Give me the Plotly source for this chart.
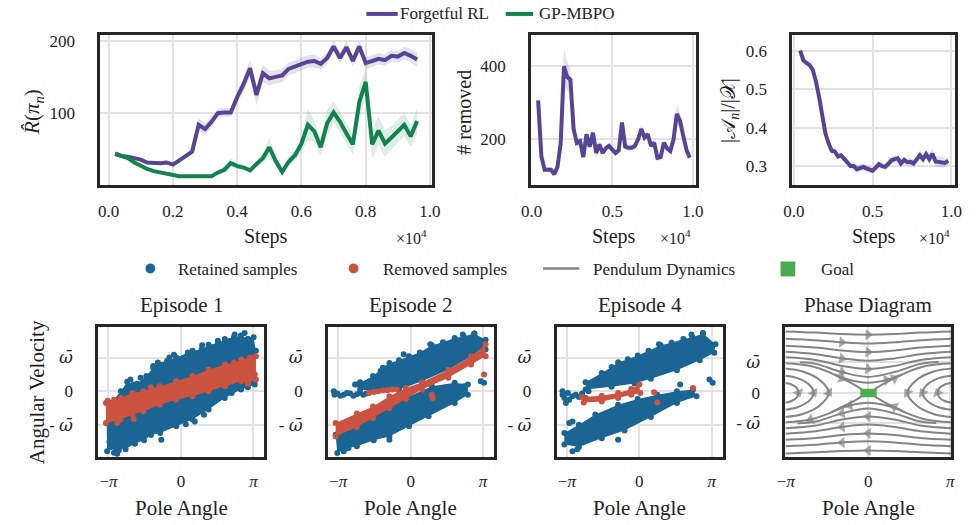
import plotly.graph_objects as go

# ------------------------------------------------------------------
# DATA
# ------------------------------------------------------------------
steps_reward = [200, 400, 600, 800, 1000, 1200, 1400, 1600, 1800, 2000,
                2200, 2400, 2600, 2800, 3000, 3200, 3400, 3600, 3800, 4000,
                4200, 4400, 4600, 4800, 5000, 5200, 5400, 5600, 5800, 6000,
                6200, 6400, 6600, 6800, 7000, 7200, 7400, 7600, 7800, 8000,
                8200, 8400, 8600, 8800, 9000, 9200, 9400, 9600]
forgetful_reward = [44, 41, 40, 38, 36, 32, 31, 31, 32, 29,
                    35, 41, 47, 84, 78, 88, 100, 101, 101, 122,
                    140, 162, 125, 155, 148, 150, 152, 161, 164, 168,
                    171, 172, 168, 176, 192, 176, 191, 172, 192, 169,
                    172, 175, 173, 179, 178, 183, 179, 174]
forgetful_reward_std = [2, 2, 2, 2, 2, 2, 2, 2, 2, 2,
                        3, 3, 4, 9, 8, 8, 6, 6, 6, 8,
                        10, 12, 14, 12, 10, 9, 9, 9, 9, 9,
                        9, 9, 8, 8, 8, 8, 8, 8, 8, 8,
                        8, 8, 8, 8, 8, 9, 9, 10]
gpmbpo_reward = [44, 41, 38, 32, 27, 23, 20, 18, 17, 15,
                 13, 13, 13, 14, 14, 13, 18, 22, 31, 27,
                 25, 21, 30, 38, 53, 34, 19, 33, 42, 58,
                 84, 75, 53, 86, 101, 88, 72, 57, 115, 143,
                 57, 76, 58, 66, 75, 84, 68, 89]
gpmbpo_reward_std = [1, 1, 1, 1, 1, 1, 1, 1, 1, 1,
                     1, 1, 1, 1, 2, 2, 3, 4, 7, 4,
                     4, 3, 5, 6, 13, 7, 5, 6, 8, 10,
                     22, 14, 12, 18, 15, 14, 14, 14, 22, 18,
                     20, 20, 18, 16, 16, 16, 15, 18]

steps_forget = [400, 600, 800, 1000, 1200, 1400, 1600, 1800, 2000, 2200,
                2400, 2600, 2800, 3000, 3200, 3400, 3600, 3800, 4000, 4200,
                4400, 4600, 4800, 5000, 5200, 5400, 5600, 5800, 6000, 6200,
                6400, 6600, 6800, 7000, 7200, 7400, 7600, 7800, 8000, 8200,
                8400, 8600, 8800, 9000, 9200, 9400, 9600, 9800]
removed_count = [306, 154, 117, 118, 117, 105, 125, 190, 398, 370,
                 362, 228, 190, 195, 152, 214, 180, 218, 163, 186,
                 163, 176, 182, 172, 163, 170, 246, 180, 177, 177,
                 182, 200, 228, 205, 214, 182, 191, 150, 152, 191,
                 175, 168, 200, 269, 250, 210, 172, 150]
removed_std = [30, 12, 8, 8, 8, 8, 10, 20, 50, 40,
               30, 15, 10, 10, 10, 10, 10, 10, 10, 10,
               8, 8, 8, 8, 8, 8, 12, 8, 8, 8,
               8, 8, 10, 8, 8, 8, 8, 8, 8, 8,
               8, 8, 10, 30, 20, 12, 10, 8]
active_ratio = [0.600, 0.575, 0.568, 0.562, 0.550, 0.520, 0.480, 0.430, 0.385, 0.360,
                0.340, 0.338, 0.325, 0.328, 0.318, 0.312, 0.300, 0.300, 0.292, 0.295,
                0.298, 0.294, 0.291, 0.288, 0.296, 0.305, 0.300, 0.298, 0.306, 0.315,
                0.318, 0.320, 0.307, 0.316, 0.310, 0.311, 0.307, 0.316, 0.328, 0.318,
                0.331, 0.318, 0.332, 0.312, 0.311, 0.310, 0.308, 0.314]
active_ratio_std = [0.012, 0.006, 0.006, 0.006, 0.006, 0.006, 0.006, 0.006, 0.006, 0.008,
                    0.008, 0.008, 0.008, 0.008, 0.008, 0.008, 0.008, 0.010, 0.010, 0.010,
                    0.010, 0.010, 0.010, 0.008, 0.008, 0.008, 0.008, 0.008, 0.010, 0.010,
                    0.010, 0.010, 0.010, 0.010, 0.010, 0.010, 0.010, 0.010, 0.012, 0.012,
                    0.012, 0.012, 0.014, 0.014, 0.014, 0.014, 0.012, 0.010]

step_ticks_fine = [0, 2000, 4000, 6000, 8000, 10000]
step_labels_fine = ["0.0", "0.2", "0.4", "0.6", "0.8", "1.0"]
step_ticks_coarse = [0, 5000, 10000]
step_labels_coarse = ["0.0", "0.5", "1.0"]

angle_ticks = [-3.14159, 0, 3.14159]
angle_labels = ["\u2212<i>\u03c0</i>", "0", "<i>\u03c0</i>"]
omega_ticks = [-1, 0, 1]
OMEGA_BAR = "<span style='font-family:DejaVu Serif'><i>\u03c9\u0304</i></span>"
omega_labels = ["- " + OMEGA_BAR, "0", OMEGA_BAR]

# --- Episode 1 samples (pole angle [rad], angular velocity [units of omega-bar])
ep1_retained_core_x = [-3.22, -3.05, -2.6, -2.33, -2.05, -1.9, -1.5, -1.2, -1.0, -0.6, -0.2, 0.5, 0.9, 1.2, 1.6,
                       1.9, 2.3, 2.6, 2.9, 3.15, 3.25, 3.2, 2.9, 2.6, 1.9, 1.2, 0.5, -0.2, -0.9, -1.3, -1.6,
                       -2.0, -2.4, -2.8, -3.2]
ep1_retained_core_y = [-0.95, -0.35, 0.0, 0.28, 0.2, 0.22, 0.45, 0.7, 0.85, 0.9, 1.0, 1.2, 1.24, 1.38, 1.42,
                       1.55, 1.6, 1.65, 1.55, 1.6, 1.2, 0.2, 0.12, 0.05, -0.2, -0.54, -0.84, -1.04, -1.24, -1.3,
                       -1.45, -1.55, -1.72, -1.7, -1.78]
ep1_retained_x = [2.33, 2.76, 0.92, 1.27, -0.85, 0.21, -2.9, -2.69, -2.76, -2.19, 1.63, 3.18,
                  -1.2, -0.5, 0.3, 1.6, 2.9, -3.1, -2.0, 1.0, 2.2, -1.75, -0.3, 0.6]
ep1_retained_y = [1.68, 1.73, 1.36, 1.29, -1.44, -0.98, -1.82, -1.75, -1.85, 0.35, -0.12, 0.3,
                  0.75, 1.0, 1.15, 1.5, 1.55, -1.5, -1.55, -0.7, -0.05, 0.4, 1.08, -0.9]
ep1_removed_core_x = [-3.25, -2.9, -2.6, -2.1, -1.63, -0.92, -0.21, 0.5, 1.2, 1.91, 2.3, 2.62, 3.0, 3.25,
                      3.25, 2.9, 2.62, 1.91, 1.2, 0.5, -0.21, -0.92, -1.63, -2.1, -2.62, -3.25]
ep1_removed_core_y = [-0.35, -0.25, -0.2, -0.05, 0.0, 0.15, 0.3, 0.45, 0.64, 0.79, 0.85, 0.94, 1.0, 1.04,
                      0.35, 0.25, 0.3, 0.15, 0.0, -0.15, -0.25, -0.4, -0.59, -0.7, -0.84, -0.94]
ep1_removed_x = [-3.18, -2.76, -2.05, 2.9, 3.2, -1.3]
ep1_removed_y = [-0.28, -0.94, -0.82, 0.22, 0.5, 0.12]

# --- Episode 2 samples
ep2_retained_upper_x = [-2.33, -1.63, -1.2, -0.92, -0.5, -0.07, 0.4, 0.92, 1.4, 1.91, 2.3, 2.76, 3.25,
                        3.25, 2.62, 1.63, 0.5, -0.5, -1.49, -2.19]
ep2_retained_upper_y = [0.2, 0.45, 0.7, 0.84, 0.92, 1.04, 1.15, 1.36, 1.45, 1.58, 1.62, 1.71, 1.53,
                        1.24, 1.04, 0.64, 0.3, 0.05, 0.0, 0.05]
ep2_retained_lower_x = [-3.25, -1.63, -0.21, 0.92, 1.91, 2.48, 2.48, 1.91, 0.78, -0.07, -0.92, -1.6, -2.33, -2.8, -3.18]
ep2_retained_lower_y = [-1.29, -0.76, -0.2, 0.15, 0.25, 0.2, -0.1, -0.35, -0.74, -1.04, -1.34, -1.45, -1.63, -1.7, -1.83]
ep2_retained_x = [-3.33, -3.18, -3.04, -2.9, -2.76, -2.62, -2.48, -2.33, -2.19, -2.05, -1.91, -2.41, -2.19, -1.98, -3.3,
                  -0.92, -2.9, -2.69, 3.04, 3.18, 2.33, 0.85, 2.76, 2.26, 1.6, 2.0, -0.3, -1.3]
ep2_retained_y = [0.0, -0.07, -0.13, -0.1, -0.05, -0.07, -0.13, -0.09, -0.05, -0.1, -0.07, 0.2, 0.27, 0.2, -0.1,
                  -1.44, -1.78, -1.68, 0.3, 0.25, 0.15, 1.39, 1.71, 1.68, 0.05, -0.15, 1.1, 0.6]
ep2_removed_core_x = [-3.25, -2.33, -1.63, -0.92, -0.21, 0.5, 1.63, 2.62, 3.25,
                      3.25, 2.62, 1.63, 0.5, -0.21, -0.92, -1.63, -2.33, -3.25]
ep2_removed_core_y = [-0.94, -0.66, -0.45, -0.15, 0.1, 0.27, 0.64, 1.04, 1.39,
                      1.04, 0.79, 0.4, 0.05, -0.23, -0.5, -0.79, -1.06, -1.34]
ep2_removed_x = [-1.8, -1.6, -1.4, -1.2, -1.0, -0.8, -0.6, 3.18, 0.92, 0.95]
ep2_removed_y = [-0.05, -0.02, 0.0, 0.02, 0.03, 0.05, 0.05, 0.5, -0.1, -0.2]

# --- Episode 4 samples
ep4_retained_upper_x = [-2.33, -1.63, -1.2, -0.92, -0.5, -0.07, 0.4, 0.92, 1.4, 1.91, 2.3, 2.76, 3.3,
                        3.25, 2.62, 1.63, 0.5, -0.21, -1.2, -2.33]
ep4_retained_upper_y = [0.27, 0.54, 0.72, 0.86, 0.95, 1.06, 1.2, 1.36, 1.44, 1.55, 1.6, 1.71, 1.39,
                        1.14, 0.92, 0.62, 0.37, 0.23, 0.13, 0.05]
ep4_retained_lower_x = [-3.25, -2.62, -1.91, -0.92, -0.07, 0.78, 1.63, 2.33, 2.48, 1.63, 0.5, -0.64, -1.63, -2.62, -3.25]
ep4_retained_lower_y = [-1.24, -0.99, -0.69, -0.4, -0.23, -0.1, 0.0, 0.05, -0.15, -0.35, -0.76, -1.16, -1.39, -1.65, -1.58]
ep4_retained_x = [-3.33, -3.33, -3.25, -3.18, -3.04, -2.9, -2.76, -2.62, -2.48, -2.33, -3.1, -2.2,
                  3.04, 3.18, -0.92, -2.9, -2.69, -3.04, 0.85, 2.76, 2.26, 1.77, -2.9]
ep4_retained_y = [0.0, -0.1, -0.2, -0.35, -0.25, -0.15, -0.1, -0.17, -0.07, -0.2, -0.05, 0.0,
                  0.35, 0.25, -1.44, -1.78, -1.72, -0.94, 1.39, 1.73, 1.68, 0.2, -0.9]
ep4_removed_core_x = [-2.48, -1.63, -0.92, -0.35, 0.0, 0.04, -0.35, -0.92, -1.63, -2.41]
ep4_removed_core_y = [-0.17, -0.13, -0.05, 0.07, 0.2, -0.05, -0.1, -0.2, -0.3, -0.33]
ep4_removed_x = [0.64, 0.78, 2.33]
ep4_removed_y = [-0.03, -0.33, 0.1]

# --- Phase diagram: pendulum dynamics streamlines (angle, velocity)
streamlines = [
    # rotating orbits, upper half (moving right)
    [(-3.16, 2.02), (-2.0, 1.98), (-1.0, 1.93), (0.0, 1.91), (1.0, 1.93), (2.0, 1.98), (3.18, 2.02)],
    [(-3.16, 1.78), (-2.0, 1.73), (-1.0, 1.66), (0.0, 1.62), (1.0, 1.66), (2.0, 1.73), (3.18, 1.78)],
    [(-3.16, 1.55), (-2.0, 1.49), (-1.0, 1.39), (0.0, 1.34), (1.0, 1.39), (2.0, 1.49), (3.18, 1.55)],
    [(-3.16, 1.35), (-2.0, 1.27), (-1.0, 1.13), (0.0, 1.05), (1.0, 1.13), (2.0, 1.27), (3.18, 1.35)],
    [(-3.16, 1.17), (-2.0, 1.08), (-1.0, 0.88), (0.0, 0.78), (1.0, 0.88), (2.0, 1.08), (3.18, 1.17)],
    [(-2.6, 1.0), (-2.0, 0.95), (-1.0, 0.68), (0.0, 0.52), (1.0, 0.68), (2.0, 0.95), (2.7, 1.01)],
    [(-1.3, 0.6), (-0.7, 0.42), (0.0, 0.33), (0.7, 0.42), (1.3, 0.6)],
    [(-3.16, 0.97), (-2.2, 0.88), (-1.5, 0.68), (-1.0, 0.47), (-0.6, 0.3), (-0.25, 0.12)],
    [(0.25, 0.12), (0.6, 0.3), (1.0, 0.47), (1.5, 0.68), (2.2, 0.88), (3.18, 0.97)],
    # rotating orbits, lower half (moving left)
    [(3.18, -2.0), (2.0, -1.96), (1.0, -1.92), (0.0, -1.9), (-1.0, -1.92), (-2.0, -1.96), (-3.16, -2.0)],
    [(3.18, -1.76), (2.0, -1.71), (1.0, -1.64), (0.0, -1.6), (-1.0, -1.64), (-2.0, -1.71), (-3.16, -1.76)],
    [(3.18, -1.55), (2.0, -1.49), (1.0, -1.39), (0.0, -1.34), (-1.0, -1.39), (-2.0, -1.49), (-3.16, -1.55)],
    [(3.18, -1.35), (2.0, -1.27), (1.0, -1.13), (0.0, -1.05), (-1.0, -1.13), (-2.0, -1.27), (-3.16, -1.35)],
    [(3.18, -1.17), (2.0, -1.08), (1.0, -0.88), (0.0, -0.78), (-1.0, -0.88), (-2.0, -1.08), (-3.16, -1.17)],
    [(2.6, -1.0), (2.0, -0.95), (1.0, -0.68), (0.0, -0.52), (-1.0, -0.68), (-2.0, -0.95), (-2.7, -1.01)],
    [(1.3, -0.6), (0.7, -0.42), (0.0, -0.33), (-0.7, -0.42), (-1.3, -0.6)],
    [(3.18, -0.97), (2.2, -0.88), (1.5, -0.68), (1.0, -0.47), (0.6, -0.3), (0.25, -0.12)],
    [(-0.25, -0.12), (-0.6, -0.3), (-1.0, -0.47), (-1.5, -0.68), (-2.2, -0.88), (-3.16, -0.97)],
    # closed orbits around the hanging position (left edge)
    [(-3.16, 0.32), (-2.95, 0.28), (-2.72, 0.15), (-2.66, 0.0), (-2.72, -0.15), (-2.95, -0.28), (-3.16, -0.32)],
    [(-3.16, 0.56), (-2.7, 0.48), (-2.25, 0.26), (-2.08, 0.0), (-2.25, -0.26), (-2.7, -0.48), (-3.16, -0.56)],
    [(-3.16, 0.8), (-2.5, 0.7), (-1.85, 0.42), (-1.5, 0.0), (-1.85, -0.42), (-2.5, -0.7), (-3.16, -0.8)],
    # closed orbits around the hanging position (right edge)
    [(3.18, -0.32), (2.95, -0.28), (2.72, -0.15), (2.66, 0.0), (2.72, 0.15), (2.95, 0.28), (3.18, 0.32)],
    [(3.18, -0.56), (2.7, -0.48), (2.25, -0.26), (2.08, 0.0), (2.25, 0.26), (2.7, 0.48), (3.18, 0.56)],
    [(3.18, -0.8), (2.5, -0.7), (1.85, -0.42), (1.5, 0.0), (1.85, 0.42), (2.5, 0.7), (3.18, 0.8)],
]
stream_arrow_index = [3, 2, 3, 2, 3, 2, 3, 3, 2,
                      3, 4, 3, 4, 3, 4, 3, 3, 4,
                      3, 3, 3,
                      3, 3, 3]
goal_x = [-0.3, 0.33, 0.33, -0.3, -0.3]
goal_y = [-0.15, -0.15, 0.13, 0.13, -0.15]

# ------------------------------------------------------------------
# STYLE / LAYOUT
# ------------------------------------------------------------------
W, H = 977, 525
FONT = "Liberation Serif"
TXT = "#222222"
PURPLE = "#574594"
PURPLE_BAND = "rgba(87,69,148,0.16)"
GREEN = "#12834f"
GREEN_BAND = "rgba(18,131,79,0.15)"
BLUE = "#1b6594"
RED = "#cb5340"
GRAY = "#848484"
GOAL = "rgba(60,165,60,0.9)"
FRAME = "#262626"
GRID = "#e2e2e2"


def fx(px):
    return px / W


def fy(py):
    return 1 - py / H


fig = go.Figure()


def band_polygon(x, y, s):
    up = [a + b for a, b in zip(y, s)]
    lo = [a - b for a, b in zip(y, s)]
    return list(x) + list(x)[::-1], up + lo[::-1]


# ---- top-left: reward
bx, by = band_polygon(steps_reward, forgetful_reward, forgetful_reward_std)
fig.add_trace(go.Scatter(x=bx, y=by, fill="toself", fillcolor=PURPLE_BAND, mode="none",
                         hoverinfo="skip", showlegend=False, xaxis="x", yaxis="y"))
fig.add_trace(go.Scatter(x=steps_reward, y=forgetful_reward, mode="lines", name="Forgetful RL",
                         line=dict(color=PURPLE, width=4), showlegend=False, xaxis="x", yaxis="y"))
bx, by = band_polygon(steps_reward, gpmbpo_reward, gpmbpo_reward_std)
fig.add_trace(go.Scatter(x=bx, y=by, fill="toself", fillcolor=GREEN_BAND, mode="none",
                         hoverinfo="skip", showlegend=False, xaxis="x", yaxis="y"))
fig.add_trace(go.Scatter(x=steps_reward, y=gpmbpo_reward, mode="lines", name="GP-MBPO",
                         line=dict(color=GREEN, width=4), showlegend=False, xaxis="x", yaxis="y"))

# ---- top-middle: # removed
bx, by = band_polygon(steps_forget, removed_count, removed_std)
fig.add_trace(go.Scatter(x=bx, y=by, fill="toself", fillcolor=PURPLE_BAND, mode="none",
                         hoverinfo="skip", showlegend=False, xaxis="x2", yaxis="y2"))
fig.add_trace(go.Scatter(x=steps_forget, y=removed_count, mode="lines",
                         line=dict(color=PURPLE, width=4), showlegend=False, xaxis="x2", yaxis="y2"))

# ---- top-right: active ratio
bx, by = band_polygon(steps_forget, active_ratio, active_ratio_std)
fig.add_trace(go.Scatter(x=bx, y=by, fill="toself", fillcolor=PURPLE_BAND, mode="none",
                         hoverinfo="skip", showlegend=False, xaxis="x3", yaxis="y3"))
fig.add_trace(go.Scatter(x=steps_forget, y=active_ratio, mode="lines",
                         line=dict(color=PURPLE, width=4), showlegend=False, xaxis="x3", yaxis="y3"))


# ---- scatter episodes
def cloud(xs, ys, color, ax, ay):
    fig.add_trace(go.Scatter(x=xs, y=ys, mode="markers", fill="toself", fillcolor=color,
                             marker=dict(color=color, size=6), line=dict(width=0),
                             hoverinfo="skip", showlegend=False, xaxis=ax, yaxis=ay))


def dots(xs, ys, color, ax, ay):
    fig.add_trace(go.Scatter(x=xs, y=ys, mode="markers", marker=dict(color=color, size=6),
                             showlegend=False, xaxis=ax, yaxis=ay))


cloud(ep1_retained_core_x, ep1_retained_core_y, BLUE, "x4", "y4")
dots(ep1_retained_x, ep1_retained_y, BLUE, "x4", "y4")
cloud(ep1_removed_core_x, ep1_removed_core_y, RED, "x4", "y4")
dots(ep1_removed_x, ep1_removed_y, RED, "x4", "y4")

cloud(ep2_retained_upper_x, ep2_retained_upper_y, BLUE, "x5", "y5")
cloud(ep2_retained_lower_x, ep2_retained_lower_y, BLUE, "x5", "y5")
dots(ep2_retained_x, ep2_retained_y, BLUE, "x5", "y5")
cloud(ep2_removed_core_x, ep2_removed_core_y, RED, "x5", "y5")
dots(ep2_removed_x, ep2_removed_y, RED, "x5", "y5")

cloud(ep4_retained_upper_x, ep4_retained_upper_y, BLUE, "x6", "y6")
cloud(ep4_retained_lower_x, ep4_retained_lower_y, BLUE, "x6", "y6")
dots(ep4_retained_x, ep4_retained_y, BLUE, "x6", "y6")
cloud(ep4_removed_core_x, ep4_removed_core_y, RED, "x6", "y6")
dots(ep4_removed_x, ep4_removed_y, RED, "x6", "y6")

# ---- phase diagram
fig.add_trace(go.Scatter(x=goal_x, y=goal_y, mode="none", fill="toself", fillcolor=GOAL,
                         showlegend=False, xaxis="x7", yaxis="y7"))
for line in streamlines:
    fig.add_trace(go.Scatter(x=[p[0] for p in line], y=[p[1] for p in line], mode="lines",
                             line=dict(color=GRAY, width=2, shape="spline", smoothing=1.0),
                             hoverinfo="skip", showlegend=False, xaxis="x7", yaxis="y7"))
ar_x, ar_y, ar_s = [], [], []
for line, i in zip(streamlines, stream_arrow_index):
    ar_x += [line[i - 1][0], line[i][0]]
    ar_y += [line[i - 1][1], line[i][1]]
    ar_s += [0, 10]
fig.add_trace(go.Scatter(x=ar_x, y=ar_y, mode="markers",
                         marker=dict(symbol="triangle-up", size=ar_s, color=GRAY, angleref="previous",
                                     line=dict(width=0)),
                         hoverinfo="skip", showlegend=False, xaxis="x7", yaxis="y7"))

# ---- axes
tickfont = dict(family=FONT, size=17, color=TXT)


def axis(domain, rng, tickvals, ticktext, anchor, standoff):
    return dict(domain=domain, range=rng, tickvals=tickvals, ticktext=ticktext, anchor=anchor,
                showgrid=True, gridcolor=GRID, gridwidth=1.5, zeroline=False,
                showline=True, mirror=True, linecolor=FRAME, linewidth=3, ticks="",
                tickfont=tickfont, ticklabelstandoff=standoff, fixedrange=True)


top_dom_y = [fy(183), fy(32)]
bot_dom_y = [fy(457), fy(326)]

layout_axes = dict(
    xaxis=axis([fx(92), fx(430)], [-260, 10065], step_ticks_fine, step_labels_fine, "y", 9),
    yaxis=axis(top_dom_y, [1, 208], [100, 200], ["100", "200"], "x", 19),
    xaxis2=axis([fx(531), fx(699)], [-30, 10200], step_ticks_coarse, step_labels_coarse, "y2", 9),
    yaxis2=axis(top_dom_y, [76, 484], [200, 400], ["200", "400"], "x2", 19),
    xaxis3=axis([fx(797), fx(963)], [-100, 10250], step_ticks_coarse, step_labels_coarse, "y3", 9),
    yaxis3=axis(top_dom_y, [0.251, 0.641], [0.3, 0.4, 0.5, 0.6], ["0.3", "0.4", "0.5", "0.6"], "x3", 19),
    xaxis4=axis([fx(90), fx(259)], [-3.58, 3.61], angle_ticks, angle_labels, "y4", 6),
    yaxis4=axis(bot_dom_y, [-1.96, 1.9], omega_ticks, omega_labels, "x4", 19),
    xaxis5=axis([fx(324), fx(493)], [-3.58, 3.61], angle_ticks, angle_labels, "y5", 6),
    yaxis5=axis(bot_dom_y, [-1.96, 1.9], omega_ticks, omega_labels, "x5", 19),
    xaxis6=axis([fx(557), fx(726)], [-3.58, 3.61], angle_ticks, angle_labels, "y6", 6),
    yaxis6=axis(bot_dom_y, [-1.96, 1.9], omega_ticks, omega_labels, "x6", 19),
    xaxis7=axis([fx(790), fx(959)], [-3.16, 3.18], angle_ticks, angle_labels, "y7", 6),
    yaxis7=axis(bot_dom_y, [-2.13, 2.16], omega_ticks, omega_labels, "x7", 19),
)

annotations = []


def text(t, x, y, size, anchor="center", angle=0):
    annotations.append(dict(text=t, x=fx(x), y=fy(y), xref="paper", yref="paper",
                            xanchor=anchor, yanchor="middle", showarrow=False, textangle=angle,
                            font=dict(family=FONT, size=size, color=TXT)))


# axis titles
text("Steps", 261, 235, 20)
text("Steps", 615, 235, 20)
text("Steps", 880, 235, 20)
for cx in [409, 678, 942]:
    text("\u00d710<sup>4</sup>", cx, 235, 16)
text("<i>R\u0302</i>(<i>\u03c0<sub>n</sub></i>)", 24, 110, 21, angle=-90)
text("# removed", 463, 110, 20, angle=-90)
text("|\U0001D49C<sub><i>n</i></sub>|/|\U0001D4B3|", 733, 108, 20, angle=-90)
text("Angular Velocity", 27, 392, 21, angle=-90)
for cx, title in zip([174.5, 408.5, 641.5, 874.5], ["Episode 1", "Episode 2", "Episode 4", "Phase Diagram"]):
    text(title, cx, 304, 21)
    text("Pole Angle", cx, 508, 21)

# legends (top)
shapes = []
shapes.append(dict(type="line", xref="paper", yref="paper", x0=fx(363), x1=fx(395), y0=fy(11), y1=fy(11),
                   line=dict(color=PURPLE, width=4)))
text("Forgetful RL", 395, 11, 17, anchor="left")
shapes.append(dict(type="line", xref="paper", yref="paper", x0=fx(505), x1=fx(533), y0=fy(11), y1=fy(11),
                   line=dict(color=GREEN, width=4)))
text("GP-MBPO", 537, 11, 17, anchor="left")

# legends (bottom)
for cx, col in [(143, BLUE), (350, RED)]:
    shapes.append(dict(type="circle", xref="paper", yref="paper", x0=fx(cx - 5), x1=fx(cx + 5),
                       y0=fy(272), y1=fy(262), fillcolor=col, line=dict(width=0)))
text("Retained samples", 169, 268, 17, anchor="left")
text("Removed samples", 378, 268, 17, anchor="left")
shapes.append(dict(type="line", xref="paper", yref="paper", x0=fx(543), x1=fx(580), y0=fy(267), y1=fy(267),
                   line=dict(color=GRAY, width=2.5)))
text("Pendulum Dynamics", 592, 268, 17, anchor="left")
shapes.append(dict(type="rect", xref="paper", yref="paper", x0=fx(785), x1=fx(800), y0=fy(275), y1=fy(260),
                   fillcolor="#4caa4c", line=dict(width=0)))
text("Goal", 824, 268, 17, anchor="left")

fig.update_layout(
    width=W, height=H, margin=dict(l=0, r=0, t=0, b=0),
    paper_bgcolor="white", plot_bgcolor="white",
    font=dict(family=FONT, color=TXT),
    showlegend=False, annotations=annotations, shapes=shapes,
    **layout_axes,
)

fig.write_html("out.html")
